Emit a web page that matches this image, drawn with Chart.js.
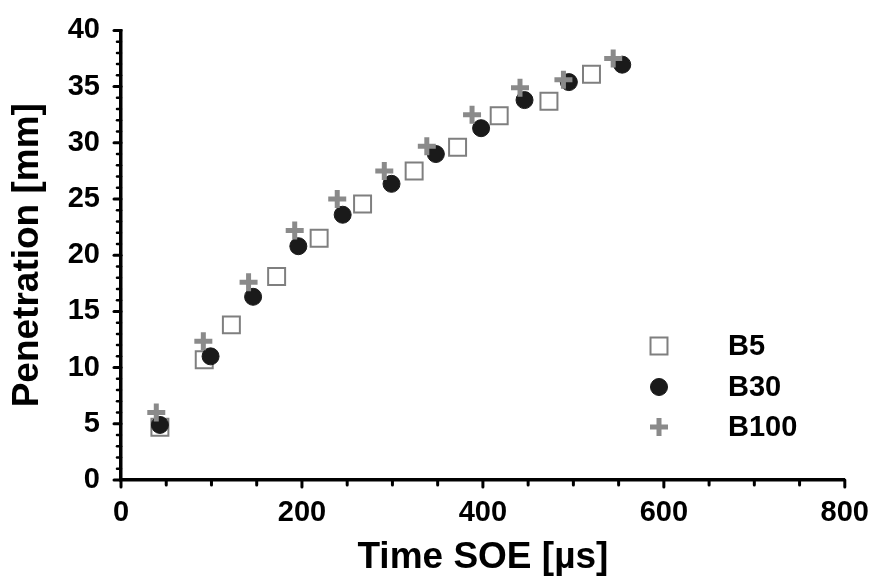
<!DOCTYPE html>
<html>
<head>
<meta charset="utf-8">
<script src="https://cdn.jsdelivr.net/npm/chart.js@4"></script>
<style>
    html, body { margin: 0; padding: 0; background: #fff; }
    #wrap { width: 877px; height: 584px; position: relative; }
</style>
</head>
<body>
<div id="wrap"><canvas id="chart"></canvas></div>
<script>
// Data
const b5X = [43, 92, 122, 172, 219, 267, 324, 372, 418, 473, 520];
const b5Y = [4.7, 10.7, 13.8, 18.1, 21.5, 24.55, 27.5, 29.6, 32.4, 33.7, 36.1];
const b30X = [43, 99, 146, 196, 245, 299, 348, 398, 446, 495, 554];
const b30Y = [4.9, 11.0, 16.3, 20.8, 23.6, 26.35, 29.0, 31.3, 33.8, 35.4, 36.95];
const b100X = [39, 91, 141, 192, 239, 291, 338, 388, 441, 489, 544];
const b100Y = [6.0, 12.35, 17.6, 22.2, 25.0, 27.5, 29.7, 32.5, 34.9, 35.6, 37.5];

const xTicks = [0, 200, 400, 600, 800];
const yTicks = [0, 5, 10, 15, 20, 25, 30, 35, 40];
const xMinorStep = 50;
const yMinorStep = 1;

const FONT = "'Liberation Sans', Arial, sans-serif";

function pts(xs, ys) {
    return xs.map((x, i) => ({ x: x, y: ys[i] }));
}

// Outward ticks (major + minor) drawn on the library's scales
const tickMarks = {
    id: 'tickMarks',
    afterDraw(chart) {
        const ctx = chart.ctx;
        const xs = chart.scales.x, ys = chart.scales.y;
        const area = chart.chartArea;
        ctx.save();
        ctx.strokeStyle = '#000';
        ctx.lineCap = 'round';
        for (let v = xs.min; v <= xs.max; v += xMinorStep) {
            const px = xs.getPixelForValue(v);
            const major = xTicks.includes(v);
            ctx.lineWidth = 3;
            ctx.beginPath();
            ctx.moveTo(px, area.bottom);
            ctx.lineTo(px, area.bottom + (major ? 7 : 5));
            ctx.stroke();
        }
        for (let v = ys.min; v <= ys.max; v += yMinorStep) {
            const py = ys.getPixelForValue(v);
            const major = yTicks.includes(v);
            ctx.lineWidth = major ? 3 : 2.5;
            ctx.beginPath();
            ctx.moveTo(area.left, py);
            ctx.lineTo(area.left - (major ? 7 : 4), py);
            ctx.stroke();
        }
        ctx.restore();
    }
};

// Legend inside the plot, bottom right
const innerLegend = {
    id: 'innerLegend',
    afterDraw(chart) {
        const ctx = chart.ctx;
        const rows = [346, 387, 427];
        ctx.save();
        chart.data.datasets.forEach((ds, i) => {
            const y = rows[i];
            ctx.fillStyle = ds.backgroundColor;
            ctx.strokeStyle = ds.borderColor;
            ctx.lineWidth = ds.borderWidth;
            Chart.helpers.drawPoint(ctx, {
                pointStyle: ds.pointStyle,
                radius: ds.pointRadius,
                borderWidth: ds.borderWidth,
                rotation: 0
            }, 659, y);
            ctx.fillStyle = '#000';
            ctx.font = 'bold 29px ' + FONT;
            ctx.textAlign = 'left';
            ctx.textBaseline = 'middle';
            ctx.fillText(ds.label, 728, y + 1);
        });
        ctx.restore();
    }
};

new Chart(document.getElementById('chart'), {
    type: 'scatter',
    data: {
        datasets: [
            {
                label: 'B5',
                data: pts(b5X, b5Y),
                pointStyle: 'rect',
                pointRadius: 12,
                borderWidth: 2,
                borderColor: '#7f7f7f',
                backgroundColor: '#ffffff',
                order: 3
            },
            {
                label: 'B30',
                data: pts(b30X, b30Y),
                pointStyle: 'circle',
                pointRadius: 8.5,
                borderWidth: 1,
                borderColor: '#1a1a1a',
                backgroundColor: '#1a1a1a',
                order: 2
            },
            {
                label: 'B100',
                data: pts(b100X, b100Y),
                pointStyle: 'cross',
                pointRadius: 9,
                borderWidth: 5,
                borderColor: '#8a8a8a',
                backgroundColor: '#8a8a8a',
                order: 1
            }
        ]
    },
    options: {
        responsive: true,
        maintainAspectRatio: false,
        animation: false,
        layout: { padding: { left: 0, right: 30, top: 21, bottom: 0 } },
        plugins: {
            legend: { display: false },
            tooltip: { enabled: false }
        },
        elements: { point: { hoverRadius: 0 } },
        scales: {
            x: {
                type: 'linear',
                min: 0,
                max: 800,
                afterBuildTicks: s => { s.ticks = xTicks.map(v => ({ value: v })); },
                afterFit: s => { s.height = 104; },
                grid: { display: false },
                border: { display: true, color: '#000', width: 3.5 },
                ticks: {
                    color: '#000',
                    padding: 8,
                    maxRotation: 0,
                    font: { family: FONT, size: 29, weight: 'bold' }
                },
                title: {
                    display: true,
                    text: 'Time SOE [µs]',
                    color: '#000',
                    padding: { top: 0, bottom: 4 },
                    font: { family: FONT, size: 37, weight: 'bold' }
                }
            },
            y: {
                type: 'linear',
                min: 0,
                max: 40,
                afterBuildTicks: s => { s.ticks = yTicks.map(v => ({ value: v })); },
                afterFit: s => { s.width = 121; },
                grid: { display: false },
                border: { display: true, color: '#000', width: 3.5 },
                ticks: {
                    color: '#000',
                    padding: 13,
                    font: { family: FONT, size: 29, weight: 'bold' }
                },
                title: {
                    display: true,
                    text: 'Penetration [mm]',
                    color: '#000',
                    padding: { top: 6, bottom: 0 },
                    font: { family: FONT, size: 37, weight: 'bold' }
                }
            }
        }
    },
    plugins: [tickMarks, innerLegend]
});
</script>
</body>
</html>
